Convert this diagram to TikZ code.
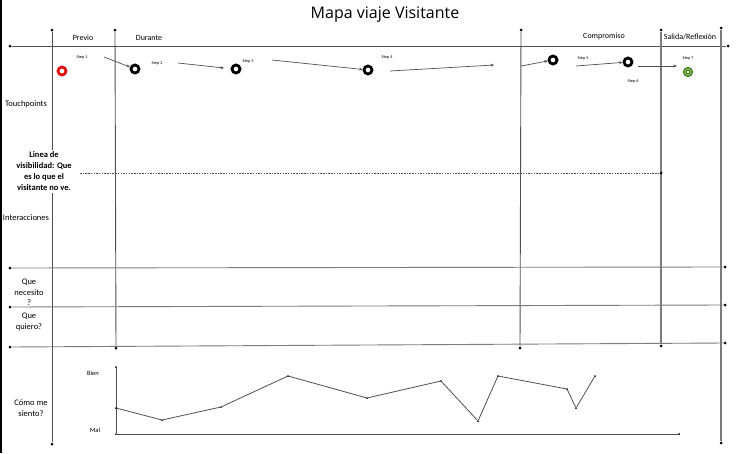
\documentclass[tikz,border=0pt]{standalone}
\usepackage{fontspec}
\setmainfont{Carlito}
\newfontfamily\titlefont{Open Sans}
\usetikzlibrary{arrows.meta}
\definecolor{lg}{HTML}{505050}
\definecolor{lg2}{HTML}{7C7C7C}
\definecolor{ringred}{HTML}{E01010}
\definecolor{ringgreen}{HTML}{6CB33F}
\definecolor{darkgreen}{HTML}{1E4D12}
\begin{document}
\begin{tikzpicture}[x=1pt,y=-1pt,
  gridline/.style={draw=lg,line width=0.9pt},
  dot/.style={circle,fill=black,inner sep=0pt,minimum size=3pt},
  sdot/.style={circle,fill=black,inner sep=0pt,minimum size=2pt},
  hdr/.style={font=\fontsize{8}{9}\selectfont,inner sep=0pt},
  lbl/.style={font=\fontsize{8.5}{11}\selectfont,inner sep=1pt,align=center},
  steplbl/.style={font=\fontsize{4.3}{5}\selectfont,inner sep=0pt},
  ring/.style={circle,draw=black,line width=2.8pt,minimum size=8pt,inner sep=0pt},
  stepar/.style={draw=lg,line width=0.7pt,-{Stealth[length=3.5pt,width=3pt]}},
  curve/.style={draw=lg,line width=0.8pt}]
\useasboundingbox (0,0) rectangle (737,453);
\fill[white] (0,0) rectangle (737,453);
\draw[line width=2pt,black] (1,0) -- (1,453);

% title
\node[font=\titlefont\fontsize{16}{18}\selectfont,inner sep=0pt] (title) at (385,15) {Mapa viaje Visitante};

% top horizontal line
\node[dot] (tl) at (10,46) {};
\node[dot] (tr) at (728,46) {};
\draw[gridline] (tl) -- (tr);

% vertical lines
\node[dot] (v1t) at (52,30) {};
\node[dot] (v1b) at (52,444) {};
\node[dot] (v2t) at (115,30) {};
\node[dot] (v2b) at (116,348) {};
\node[dot] (v3t) at (521,30) {};
\node[dot] (v3b) at (520,348) {};
\node[dot] (v4t) at (661,30) {};
\node[dot] (v4b) at (661,346) {};
\node[dot] (v5t) at (721,28) {};
\node[dot] (v5b) at (721,443) {};
\draw[gridline] (v1t) -- (v1b);
\draw[gridline] (v2t) -- (v2b);
\draw[gridline] (v3t) -- (v3b);
\draw[draw=lg2,line width=1.3pt] (v4t) -- (v4b);
\draw[draw=lg2,line width=1.3pt] (v5t) -- (v5b);

% horizontal row lines
\node[dot] (h1l) at (10,268) {};
\node[dot] (h1r) at (725,267) {};
\node[dot] (h2l) at (10,307) {};
\node[dot] (h2r) at (725,305) {};
\node[dot] (h3l) at (10,347) {};
\node[dot] (h3r) at (725,343) {};
\draw[gridline,draw=lg2] (h1l) -- (h1r);
\draw[gridline,draw=lg2] (h2l) -- (h2r);
\draw[gridline,draw=lg2] (h3l) -- (h3r);

% line of visibility
\coordinate (visl) at (80,173);
\node[dot] (visr) at (661,173) {};
\draw[lg,line width=0.7pt,dash pattern=on 1.5pt off 1.2pt] (visl) -- (visr);

% headers
\node[hdr] (previo) at (83,38) {Previo};
\node[hdr] (durante) at (149,38) {Durante};
\node[hdr] (compromiso) at (604,36) {Compromiso};
\node[hdr] (salida) at (690,37) {Salida/Reflexión};

% row labels
\node[lbl] (touch) at (26,104) {Touchpoints};
\node[lbl,fill=white,font=\bfseries\fontsize{8.5}{11}\selectfont,inner sep=2pt] (vis) at (44,171.5) {Linea de\\visibilidad: Que\\es lo que el\\visitante no ve.};
\node[lbl] (inter) at (26,218) {Interacciones};
\node[lbl,font=\fontsize{8.5}{10.5}\selectfont] (necesito) at (29,292.5) {Que\\necesito\\?};
\node[lbl,font=\fontsize{8.5}{10.5}\selectfont] (quiero) at (29,322) {Que\\quiero?};
\node[lbl] (siento) at (31,408) {Cómo me\\siento?};

% touchpoints
\node[ring,draw=ringred] (c1) at (62,71) {};
\node[ring] (c2) at (135,69) {};
\node[ring] (c3) at (236,69) {};
\node[ring] (c4) at (368,70) {};
\node[ring] (c5) at (553,60) {};
\node[ring] (c6) at (628,62) {};
\node[circle,draw=darkgreen,double=ringgreen,double distance=2.2pt,line width=0.6pt,minimum size=6.5pt,inner sep=0pt] (c7) at (688,72) {};

% step labels
\node[steplbl] (s1) at (82,57) {Step 1};
\node[steplbl] (s2) at (157,63) {Step 2};
\node[steplbl] (s3) at (248,61) {Step 3};
\node[steplbl] (s4) at (387,57) {Step 4};
\node[steplbl] (s5) at (583,58) {Step 5};
\node[steplbl] (s6) at (633,81) {Step 6};
\node[steplbl] (s7) at (688,58) {Step 7};

% step arrows
\coordinate (a1s) at (104,57);
\coordinate (a2s) at (178,63);
\coordinate (a2e) at (224,68);
\coordinate (a3s) at (272,60);
\coordinate (a4s) at (390,71);
\coordinate (a4e) at (494,65);
\coordinate (a5s) at (521,66);
\coordinate (a6s) at (576,66);
\coordinate (a7s) at (638,66);
\coordinate (a7e) at (677,66);
\draw[stepar] (a1s) -- (c2);
\draw[stepar] (a2s) -- (a2e);
\draw[stepar] (a3s) -- (c4);
\draw[stepar] (a4s) -- (a4e);
\draw[stepar] (a5s) -- (c5);
\draw[stepar] (a6s) -- (c6);
\draw[stepar] (a7s) -- (a7e);

% feelings chart
\node[lbl,font=\fontsize{6.5}{7}\selectfont] (bien) at (93,373) {Bien};
\node[lbl,font=\fontsize{6.5}{7}\selectfont] (mal) at (95,430) {Mal};
\node[sdot] (ax0) at (116,434) {};
\node[sdot] (axt) at (116,367) {};
\node[sdot] (axr) at (679,434) {};
\draw[curve] (axt) -- (ax0) -- (axr);
\node[sdot] (p1) at (116,408) {};
\node[sdot] (p2) at (162,420) {};
\node[sdot] (p3) at (221,407) {};
\node[sdot] (p4) at (288,376) {};
\node[sdot] (p5) at (367,398) {};
\node[sdot] (p6) at (441,381) {};
\node[sdot] (p7) at (478,421) {};
\node[sdot] (p8) at (498,376) {};
\node[sdot] (p9) at (567,389) {};
\node[sdot] (p10) at (576,408) {};
\node[sdot] (p11) at (595,376) {};
\draw[curve] (p1) -- (p2) -- (p3) -- (p4) -- (p5) -- (p6) -- (p7) -- (p8) -- (p9) -- (p10) -- (p11);
\end{tikzpicture}
\end{document}
